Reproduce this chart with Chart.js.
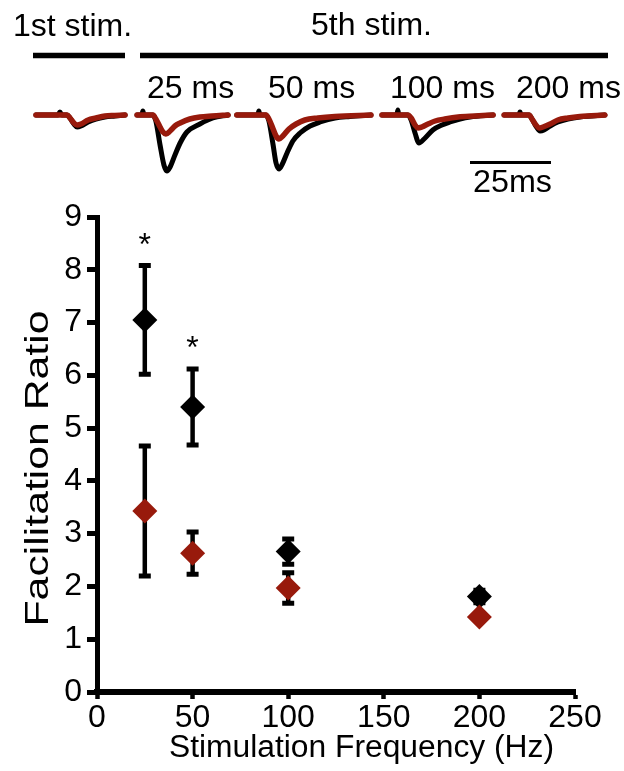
<!DOCTYPE html>
<html>
<head>
<meta charset="utf-8">
<script src="https://cdn.jsdelivr.net/npm/chart.js@4.4.1/dist/chart.umd.min.js"></script>
<style>
  html, body { margin: 0; padding: 0; background: #ffffff; width: 624px; height: 771px; overflow: hidden; }
  canvas { position: absolute; left: 0; top: 0; }
</style>
</head>
<body>
<canvas id="plot" width="624" height="771"></canvas>
<canvas id="traces" width="624" height="200"></canvas>
<script>
// ---------------- data: facilitation ratio ----------------
const frequencies = [25, 50, 100, 200];           // Hz
const controlMean = [7.05, 5.40, 2.66, 1.81];
const controlSem  = [1.03, 0.72, 0.24, 0.12];
const treatedMean = [3.43, 2.63, 1.97, 1.42];
const treatedSem  = [1.23, 0.40, 0.29, 0.05];
const significant = [true, true, false, false];
const xTickValues = [0, 50, 100, 150, 200, 250];
const yTickValues = [0, 1, 2, 3, 4, 5, 6, 7, 8, 9];
const xAxisTitle = 'Stimulation Frequency (Hz)';
const yAxisTitle = 'Facilitation Ratio';

// ---------------- data: example current traces (time ms, current a.u.) ----------------
const sweepLabels = ['1st stim.', '5th stim.'];
const intervalLabels = ['25 ms', '50 ms', '100 ms', '200 ms'];
const scaleBarMs = 25;
const scaleBarLabel = '25ms';

const sweep1Black = [[11.1,0],[17.9,0],[18.5,3],[19.1,0],[20.7,0],[21.6,-3],[22.8,-9],[23.8,-12],[25.0,-11],[27.2,-7],[29.6,-4],[32.4,-2],[35.5,-1],[38.6,0]];
const sweep1Red   = [[11.1,0],[20.7,0],[21.6,-3],[22.8,-8],[23.8,-10],[25.0,-9],[27.2,-5],[29.6,-3],[32.4,-1],[35.5,-0.5],[38.6,0]];
const sweep2Black = [[42.3,0],[43.8,0],[44.1,4],[44.4,0],[47.2,0],[48.1,-6],[49.4,-30],[50.6,-50],[51.5,-56],[52.5,-52],[54.0,-40],[55.6,-28],[57.7,-17],[61.7,-9],[65.7,-3],[70.4,0]];
const sweep2Red   = [[42.3,0],[47.2,0],[48.1,-4],[49.4,-12],[50.3,-17],[51.2,-19],[52.5,-16],[54.0,-11],[55.6,-8],[58.6,-4],[61.7,-2],[65.4,-1],[70.4,0]];
const sweep3Black = [[73.1,0],[79.6,0],[79.9,4],[80.2,0],[82.1,0],[83.0,-6],[84.3,-30],[85.2,-48],[86.1,-54],[87.0,-50],[88.6,-38],[90.4,-26],[92.6,-18],[95.7,-11],[98.8,-7],[103.4,-3],[108.0,-1.5],[114.5,0]];
const sweep3Red   = [[73.1,0],[82.1,0],[83.0,-4],[84.3,-14],[85.2,-21],[86.1,-24],[87.3,-21],[89.2,-14],[91.4,-9],[94.1,-5],[98.1,-3],[103.4,-1.5],[114.5,0]];
const sweep4Black = [[117.9,0],[122.5,0],[122.8,5],[123.1,0],[125.9,0],[126.9,-5],[128.1,-18],[129.3,-28],[130.9,-24],[133.6,-15],[136.4,-10],[138.9,-7],[142.0,-4],[145.1,-2],[152.2,0]];
const sweep4Red   = [[117.9,0],[125.9,0],[126.9,-3],[128.1,-10],[129.0,-13],[130.2,-12],[132.1,-9],[134.3,-6],[137.3,-4],[141.4,-2],[146.6,-1],[152.2,0]];
const sweep5Black = [[155.6,0],[160.2,0],[160.5,3],[160.8,0],[163.3,0],[164.2,-4],[165.4,-11],[166.7,-16],[167.9,-15],[169.8,-11],[172.2,-7],[175.3,-4],[179.0,-2],[182.7,-1],[186.7,0]];
const sweep5Red   = [[155.6,0],[163.3,0],[164.2,-4],[165.4,-10],[166.4,-13],[167.6,-12],[169.8,-9],[172.2,-5],[175.3,-3],[179.0,-1.5],[186.7,0]];

// ---------------- styles ----------------
const FONT = "'Liberation Sans', Arial, Helvetica, sans-serif";
const BLACK = '#000000';
const RED = '#981a0c';

// ---------------- main plot ----------------
const errorBarPlugin = {
  id: 'errorBars',
  beforeDatasetsDraw(chart) {
    const { ctx, scales: { x, y } } = chart;
    ctx.save();
    ctx.strokeStyle = BLACK;
    ctx.lineCap = 'butt';
    [[controlMean, controlSem], [treatedMean, treatedSem]].forEach(([m, e]) => {
      frequencies.forEach((f, i) => {
        const px = x.getPixelForValue(f);
        const top = y.getPixelForValue(m[i] + e[i]);
        const bot = y.getPixelForValue(m[i] - e[i]);
        ctx.lineWidth = 4.5;
        ctx.beginPath(); ctx.moveTo(px, top); ctx.lineTo(px, bot); ctx.stroke();
        ctx.lineWidth = 5;
        ctx.beginPath();
        ctx.moveTo(px - 6, top); ctx.lineTo(px + 6, top);
        ctx.moveTo(px - 6, bot); ctx.lineTo(px + 6, bot);
        ctx.stroke();
      });
    });
    ctx.restore();
  },
  afterDatasetsDraw(chart) {
    const { ctx, scales: { x, y } } = chart;
    ctx.save();
    ctx.fillStyle = BLACK;
    ctx.font = '32px ' + FONT;
    ctx.textAlign = 'center';
    ctx.textBaseline = 'alphabetic';
    frequencies.forEach((f, i) => {
      if (!significant[i]) return;
      const px = x.getPixelForValue(f);
      const top = y.getPixelForValue(controlMean[i] + controlSem[i]);
      ctx.fillText('*', px, top - 29 + 18);
    });
    ctx.restore();
  },
  afterDraw(chart) {
    const { ctx } = chart;
    ctx.save();
    ctx.fillStyle = BLACK;
    ctx.textBaseline = 'alphabetic';
    ctx.textAlign = 'center';
    // x title
    ctx.font = '31px ' + FONT;
    let w = ctx.measureText(xAxisTitle).width;
    ctx.save();
    ctx.translate(361.5, 757);
    ctx.scale(385 / w, 1);
    ctx.fillText(xAxisTitle, 0, 0);
    ctx.restore();
    // y title (rotated)
    ctx.font = '33px ' + FONT;
    w = ctx.measureText(yAxisTitle).width;
    ctx.save();
    ctx.translate(48, 468.5);
    ctx.rotate(-Math.PI / 2);
    ctx.scale(316 / w, 1);
    ctx.fillText(yAxisTitle, 0, 0);
    ctx.restore();
    ctx.restore();
  }
};

const zeroPad = s => { s.paddingLeft = 0; s.paddingRight = 0; s.paddingTop = 0; s.paddingBottom = 0; };

new Chart(document.getElementById('plot'), {
  type: 'scatter',
  data: {
    datasets: [
      {
        label: 'Treated',
        data: frequencies.map((f, i) => ({ x: f, y: treatedMean[i] })),
        pointStyle: 'rectRot', pointRadius: 12.5, pointHoverRadius: 12.5,
        backgroundColor: RED, borderColor: RED, borderWidth: 0, order: 0
      },
      {
        label: 'Control',
        data: frequencies.map((f, i) => ({ x: f, y: controlMean[i] })),
        pointStyle: 'rectRot', pointRadius: 12.5, pointHoverRadius: 12.5,
        backgroundColor: BLACK, borderColor: BLACK, borderWidth: 0, order: 1
      }
    ]
  },
  options: {
    responsive: false,
    animation: false,
    devicePixelRatio: 1,
    layout: { padding: { left: 0, right: 49, top: 217, bottom: 0 } },
    plugins: { legend: { display: false }, tooltip: { enabled: false } },
    scales: {
      x: {
        type: 'linear', min: 0, max: 250,
        afterBuildTicks: s => { s.ticks = xTickValues.map(v => ({ value: v })); },
        ticks: { color: BLACK, font: { family: FONT, size: 32 }, padding: 0, maxRotation: 0, autoSkip: false },
        grid: { display: true, drawOnChartArea: false, drawTicks: true, tickLength: 7, tickWidth: 4.5, tickColor: BLACK },
        border: { display: true, width: 6, color: BLACK },
        afterFit: s => { s.height = 79; zeroPad(s); }
      },
      y: {
        type: 'linear', min: 0, max: 9,
        afterBuildTicks: s => { s.ticks = yTickValues.map(v => ({ value: v })); },
        ticks: { color: BLACK, font: { family: FONT, size: 32 }, padding: 5, autoSkip: false },
        grid: { display: true, drawOnChartArea: false, drawTicks: true, tickLength: 10, tickWidth: 5, tickColor: BLACK },
        border: { display: true, width: 5, color: BLACK },
        afterFit: s => { s.width = 97; zeroPad(s); }
      }
    }
  },
  plugins: [errorBarPlugin]
});

// ---------------- trace panel ----------------
const tracePlugin = {
  id: 'traceAnnotations',
  afterDraw(chart) {
    const { ctx, scales: { x } } = chart;
    ctx.save();
    ctx.fillStyle = BLACK;
    ctx.strokeStyle = BLACK;
    ctx.textAlign = 'left';
    ctx.textBaseline = 'alphabetic';
    ctx.font = '32px ' + FONT;
    ctx.fillText(sweepLabels[0], 13, 36);
    ctx.fillText(sweepLabels[1], 311, 35);
    ctx.lineCap = 'butt';
    ctx.lineWidth = 5.5;
    ctx.beginPath();
    ctx.moveTo(33, 55.5); ctx.lineTo(125, 55.5);
    ctx.moveTo(140, 55.5); ctx.lineTo(608, 55.5);
    ctx.stroke();
    const lx = [147, 268, 390, 516];
    intervalLabels.forEach((t, i) => ctx.fillText(t, lx[i], 98));
    // scale bar, length taken from the time axis
    const x0 = 470;
    const x1 = x.getPixelForValue(x.getValueForPixel(x0) + scaleBarMs);
    ctx.lineWidth = 3;
    ctx.beginPath(); ctx.moveTo(x0, 162.5); ctx.lineTo(x1, 162.5); ctx.stroke();
    ctx.font = '31px ' + FONT;
    const w = ctx.measureText(scaleBarLabel).width;
    ctx.save();
    ctx.translate(473, 192);
    ctx.scale(79 / w, 1);
    ctx.fillText(scaleBarLabel, 0, 0);
    ctx.restore();
    ctx.restore();
  }
};

const toXY = arr => arr.map(([t, v]) => ({ x: t, y: v }));
const blackSweeps = [sweep1Black, sweep2Black, sweep3Black, sweep4Black, sweep5Black];
const redSweeps = [sweep1Red, sweep2Red, sweep3Red, sweep4Red, sweep5Red];
const traceDatasets = [];
blackSweeps.forEach((s, i) => traceDatasets.push({
  label: 'control ' + (i + 1), data: toXY(s), borderColor: BLACK, borderWidth: 5,
  pointRadius: 0, cubicInterpolationMode: 'monotone', borderCapStyle: 'round', borderJoinStyle: 'round', order: 1, fill: false
}));
redSweeps.forEach((s, i) => traceDatasets.push({
  label: 'treated ' + (i + 1), data: toXY(s), borderColor: RED, borderWidth: 5.5,
  pointRadius: 0, cubicInterpolationMode: 'monotone', borderCapStyle: 'round', borderJoinStyle: 'round', order: 0, fill: false
}));

new Chart(document.getElementById('traces'), {
  type: 'line',
  data: { datasets: traceDatasets },
  options: {
    responsive: false,
    animation: false,
    devicePixelRatio: 1,
    layout: { padding: 0 },
    plugins: { legend: { display: false }, tooltip: { enabled: false } },
    scales: {
      x: { type: 'linear', min: 0, max: 192.6, display: false },
      y: { type: 'linear', min: -85, max: 115, display: false }
    }
  },
  plugins: [tracePlugin]
});
</script>
</body>
</html>
